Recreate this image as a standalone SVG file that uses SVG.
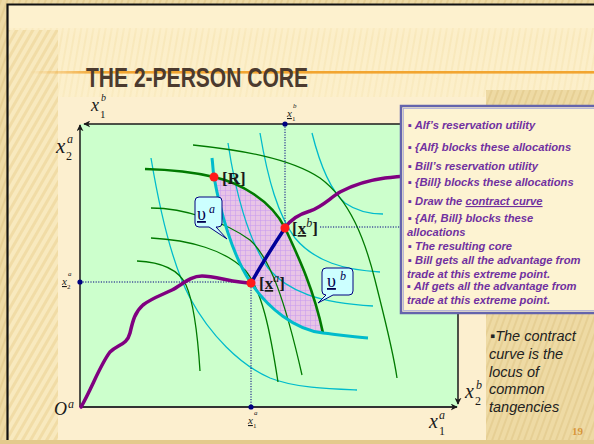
<svg xmlns="http://www.w3.org/2000/svg" width="594" height="444" viewBox="0 0 594 444">
<defs>
<style>
.ax{stroke:#1a1a1a;stroke-width:1.5;fill:none}
.dot{stroke:#000080;stroke-width:1;stroke-dasharray:1.2 1.4;fill:none}
.cy{stroke:#00BBCC;stroke-width:1.3;fill:none}
.cyT{stroke:#00BBCC;stroke-width:3;fill:none}
.gr{stroke:#007A00;stroke-width:1.3;fill:none}
.grT{stroke:#007A00;stroke-width:2.6;fill:none}
.pu{stroke:#800080;stroke-width:3.5;fill:none;stroke-linecap:round}
.bl{stroke:#000099;stroke-width:3.5;fill:none;stroke-linecap:round}
.red{fill:#FF1A1A}
.nv{fill:#000080}
.ser{font-family:"Liberation Serif","Times New Roman",serif}
.it{font-style:italic}
.lbl{font-family:"Liberation Serif","Times New Roman",serif;font-weight:bold;font-size:17px;fill:#1a1a1a}
.pan{font-family:"Liberation Sans",Arial,sans-serif;font-style:italic;font-weight:bold;font-size:11.2px;fill:#7030A0}
.note{font-family:"Liberation Sans",Arial,sans-serif;font-style:italic;font-size:14.5px;fill:#222}
.bal{fill:#CCFFFF;stroke:#000080;stroke-width:1}
</style>
<pattern id="stripes" width="7" height="7" patternUnits="userSpaceOnUse" patternTransform="rotate(30)">
<rect width="7" height="7" fill="#F8E9BE"/>
<rect width="3" height="7" fill="#F1DCA6"/>
</pattern>
<pattern id="tan" width="6" height="6" patternUnits="userSpaceOnUse" patternTransform="rotate(20)">
<rect width="6" height="6" fill="#EEDAA4"/>
<rect width="2" height="6" fill="#E6CF94"/>
</pattern>
<pattern id="vstripes" width="6" height="6" patternUnits="userSpaceOnUse" patternTransform="rotate(10)">
<rect width="6" height="6" fill="#FBEDC6"/>
<rect width="2" height="6" fill="#F5E2AE"/>
</pattern>
<pattern id="grid" width="5" height="5" patternUnits="userSpaceOnUse">
<rect width="5" height="5" fill="#E8C4E6"/>
<path d="M0,0.3H5M0.3,0V5" stroke="#C99CEE" stroke-width="0.7"/>
</pattern>
<linearGradient id="orange" x1="0" x2="1" y1="0" y2="0">
<stop offset="0" stop-color="#F2A530" stop-opacity="0"/>
<stop offset="0.12" stop-color="#F2A530" stop-opacity="1"/>
<stop offset="1" stop-color="#F2A530"/>
</linearGradient>
<linearGradient id="fadeTop" x1="0" x2="0" y1="0" y2="1">
<stop offset="0" stop-color="#FDF1CE" stop-opacity="1"/>
<stop offset="0.35" stop-color="#FDF1CE" stop-opacity="0.4"/>
<stop offset="1" stop-color="#FDF1CE" stop-opacity="0.6"/>
</linearGradient>
<marker id="arr" viewBox="0 0 10 10" refX="9" refY="5" markerWidth="7" markerHeight="7" orient="auto" markerUnits="userSpaceOnUse">
<path d="M0,0 L10,5 L0,10 L3,5 Z" fill="#1a1a1a"/>
</marker>
</defs>

<g id="background">
<rect width="594" height="444" fill="url(#tan)"/>
<rect x="8" y="5" width="586" height="435" fill="#FDF1CE"/>
<rect x="8" y="28" width="586" height="70" fill="url(#vstripes)"/>
<rect x="8" y="5" width="586" height="93" fill="url(#fadeTop)"/>
<rect x="8" y="30" width="50" height="410" fill="url(#stripes)"/>
<rect x="486" y="90" width="108" height="350" fill="url(#tan)"/>
<rect x="0" y="440" width="594" height="4" fill="#E3CA8C"/>
<path d="M7.5,440 V4.5 H594" stroke="#111" stroke-width="2.2" fill="none"/>
<rect x="58" y="97" width="428" height="343" fill="#FCEFCF"/>
<rect x="30" y="71" width="564" height="2.6" fill="url(#orange)"/>
</g>

<g id="title">
<text x="86" y="87" font-family="'Liberation Sans Narrow','Liberation Sans',Arial,sans-serif" font-weight="bold" font-size="27" fill="#4B3A2E" textLength="222" lengthAdjust="spacingAndGlyphs">THE 2-PERSON CORE</text>
</g>

<g id="box">
<rect x="80" y="124" width="378" height="283" fill="#CCFFCC"/>
</g>

<g id="core">
<path d="M214,177 C240,183 271,200 285,228 C299,258 314,290 323,333 C295,330 268,308 251,283 C232,255 220,210 214,177 Z" fill="url(#grid)"/>
</g>

<g id="curves">
<path class="cy" d="M151,158 C158,200 170,260 190,298 C210,335 240,365 270,378 C295,388 330,389 357,390"/>
<path class="cy" d="M228,143 C235,190 248,240 268,268 C288,292 320,303 373,306"/>
<path class="cy" d="M260,133 C268,180 278,215 295,238 C315,262 345,270 380,272"/>
<path class="cy" d="M312,133 C320,165 330,190 345,203 C358,212 370,214 383,214"/>
<path class="gr" d="M193,145 C240,150 290,158 320,178 C350,200 365,240 375,280 C385,320 393,350 397,378"/>
<path class="gr" d="M151,208 C185,208 225,222 250,240 C270,258 285,300 302,375"/>
<path class="gr" d="M151,238 C190,240 225,250 245,270 C262,290 270,330 278,382"/>
<path class="gr" d="M137,261 C160,262 178,268 186,285 C195,305 198,340 200,371"/>
<path class="grT" d="M145,169 Q185,170 214,177 C240,183 271,200 285,228 C299,258 314,290 323,333"/>
<path class="cyT" d="M212,158 C213,165 213,172 214,177 C220,210 232,255 251,283 C268,308 295,330 323,333 C340,335 355,337 368,338"/>
</g>

<g id="guides">
<path class="dot" d="M285,124 V228"/>
<path class="dot" d="M80,282 H251"/>
<path class="dot" d="M251,282 V407"/>
<path class="dot" d="M320,227 H458"/>
</g>

<g id="axes">
<path class="ax" d="M458,124 H84" marker-end="url(#arr)"/>
<path class="ax" d="M80,407 V125" marker-end="url(#arr)"/>
<path class="ax" d="M458,124 V404" marker-end="url(#arr)"/>
<path d="M80,407 H457" stroke="#333" stroke-width="2" fill="none" marker-end="url(#arr)"/>
</g>

<g id="paths">
<path class="pu" d="M81,407 C92,388 100,365 110,352 C118,344 127,345 130,333 C133,320 135,312 143,305 C152,298 162,295 172,290 C182,285 190,276 202,276 C215,276 235,283 251,283"/>
<path class="pu" d="M285,228 C291,218 300,214 310,211 C322,207 330,198 340,192 C355,184 370,180 385,178 C395,177 402,176 412,176"/>
<path class="bl" d="M251,283 Q267,255 285,228"/>
</g>

<g id="points">
<circle class="nv" cx="285" cy="124" r="2.6"/>
<circle class="nv" cx="80" cy="282" r="2.6"/>
<circle class="nv" cx="251" cy="407" r="2.6"/>
<circle class="red" cx="214" cy="177" r="4.5"/>
<circle class="red" cx="285" cy="228" r="4.5"/>
<circle class="red" cx="251" cy="283" r="4.5"/>
</g>

<g id="point-labels">
<text class="lbl" x="222" y="184">[R]</text>
<text class="lbl" x="292" y="234">[<tspan text-decoration="underline">x</tspan><tspan class="it" font-weight="normal" font-size="12" dy="-7">b</tspan><tspan dy="7">]</tspan></text>
<text class="lbl" x="259" y="289">[<tspan text-decoration="underline">x</tspan><tspan class="it" font-weight="normal" font-size="12" dy="-7">a</tspan><tspan dy="7">]</tspan></text>
</g>

<g id="balloon-a">
<path class="bal" d="M199,197 H218 Q222,197 222,201 V223 Q222,227 218,227 H216 L227,239 L209,227 H199 Q195,227 195,223 V201 Q195,197 199,197 Z"/>
<text class="ser" x="197" y="220" font-size="18" fill="#000050" text-decoration="underline">υ</text>
<text class="ser it" x="209" y="213" font-size="12" fill="#000050">a</text>
</g>

<g id="balloon-b">
<path class="bal" d="M326,268 H349 Q353,268 353,272 V291 Q353,295 349,295 H333 L318,303 L326,295 Q322,295 322,291 V272 Q322,268 326,268 Z"/>
<text class="ser" x="327" y="287" font-size="18" fill="#000050" text-decoration="underline">υ</text>
<text class="ser it" x="340" y="280" font-size="12" fill="#000050">b</text>
</g>

<g id="axis-labels" class="ser it" fill="#1a1a1a">
<text x="91" y="111" font-size="18">x</text>
<text x="100" y="118" font-size="11" font-style="normal">1</text>
<text x="101" y="101" font-size="10">b</text>
<text x="56" y="153" font-size="21">x</text>
<text x="66" y="160" font-size="12" font-style="normal">2</text>
<text x="67" y="143" font-size="12">a</text>
<text x="54" y="415" font-size="18">O</text>
<text x="68" y="408" font-size="12">a</text>
<text x="429" y="428" font-size="20">x</text>
<text x="439" y="435" font-size="12" font-style="normal">1</text>
<text x="439" y="419" font-size="12">a</text>
<text x="465" y="398" font-size="20">x</text>
<text x="475" y="405" font-size="12" font-style="normal">2</text>
<text x="476" y="389" font-size="12">b</text>
</g>

<g id="endowment-labels" class="ser it" fill="#1a1a1a">
<text x="287" y="117" font-size="11" text-decoration="underline">x</text>
<text x="292" y="121" font-size="7" font-style="normal">1</text>
<text x="293" y="108" font-size="7">b</text>
<text x="62" y="285" font-size="11" text-decoration="underline">x</text>
<text x="67" y="289" font-size="7" font-style="normal">2</text>
<text x="68" y="276" font-size="7">a</text>
<text x="248" y="424" font-size="11" text-decoration="underline">x</text>
<text x="253" y="428" font-size="7" font-style="normal">1</text>
<text x="254" y="415" font-size="7">a</text>
</g>

<g id="panel">
<rect x="401" y="106" width="200" height="207" fill="#FDF3D2" stroke="#6464AC" stroke-width="2.5"/>
<rect x="403.5" y="108.5" width="200" height="202" fill="none" stroke="#A8A8D8" stroke-width="0.8"/>
<text class="pan" x="408" y="129">▪ Alf’s reservation utility</text>
<text class="pan" x="408" y="151">▪ {Alf} blocks these allocations</text>
<text class="pan" x="408" y="170">▪ Bill’s reservation utility</text>
<text class="pan" x="408" y="186">▪ {Bill} blocks these allocations</text>
<text class="pan" x="408" y="205">▪ Draw the <tspan text-decoration="underline">contract curve</tspan></text>
<text class="pan" x="408" y="222">▪ {Alf, Bill} blocks these</text>
<text class="pan" x="407" y="236">allocations</text>
<text class="pan" x="408" y="250">▪ The resulting core</text>
<text class="pan" x="408" y="264">▪ Bill gets all the advantage from</text>
<text class="pan" x="407" y="278">trade at this extreme point.</text>
<text class="pan" x="407" y="290">▪ Alf gets all the advantage from</text>
<text class="pan" x="407" y="304">trade at this extreme point.</text>
</g>

<g id="note">
<text class="note" x="490" y="341">▪The contract</text>
<text class="note" x="489" y="359">curve is the</text>
<text class="note" x="489" y="377">locus of</text>
<text class="note" x="489" y="394">common</text>
<text class="note" x="489" y="412">tangencies</text>
</g>

<g id="page-number">
<text x="572" y="435" font-family="'Liberation Serif',serif" font-weight="bold" font-size="11" fill="#D8963A">19</text>
</g>
</svg>
